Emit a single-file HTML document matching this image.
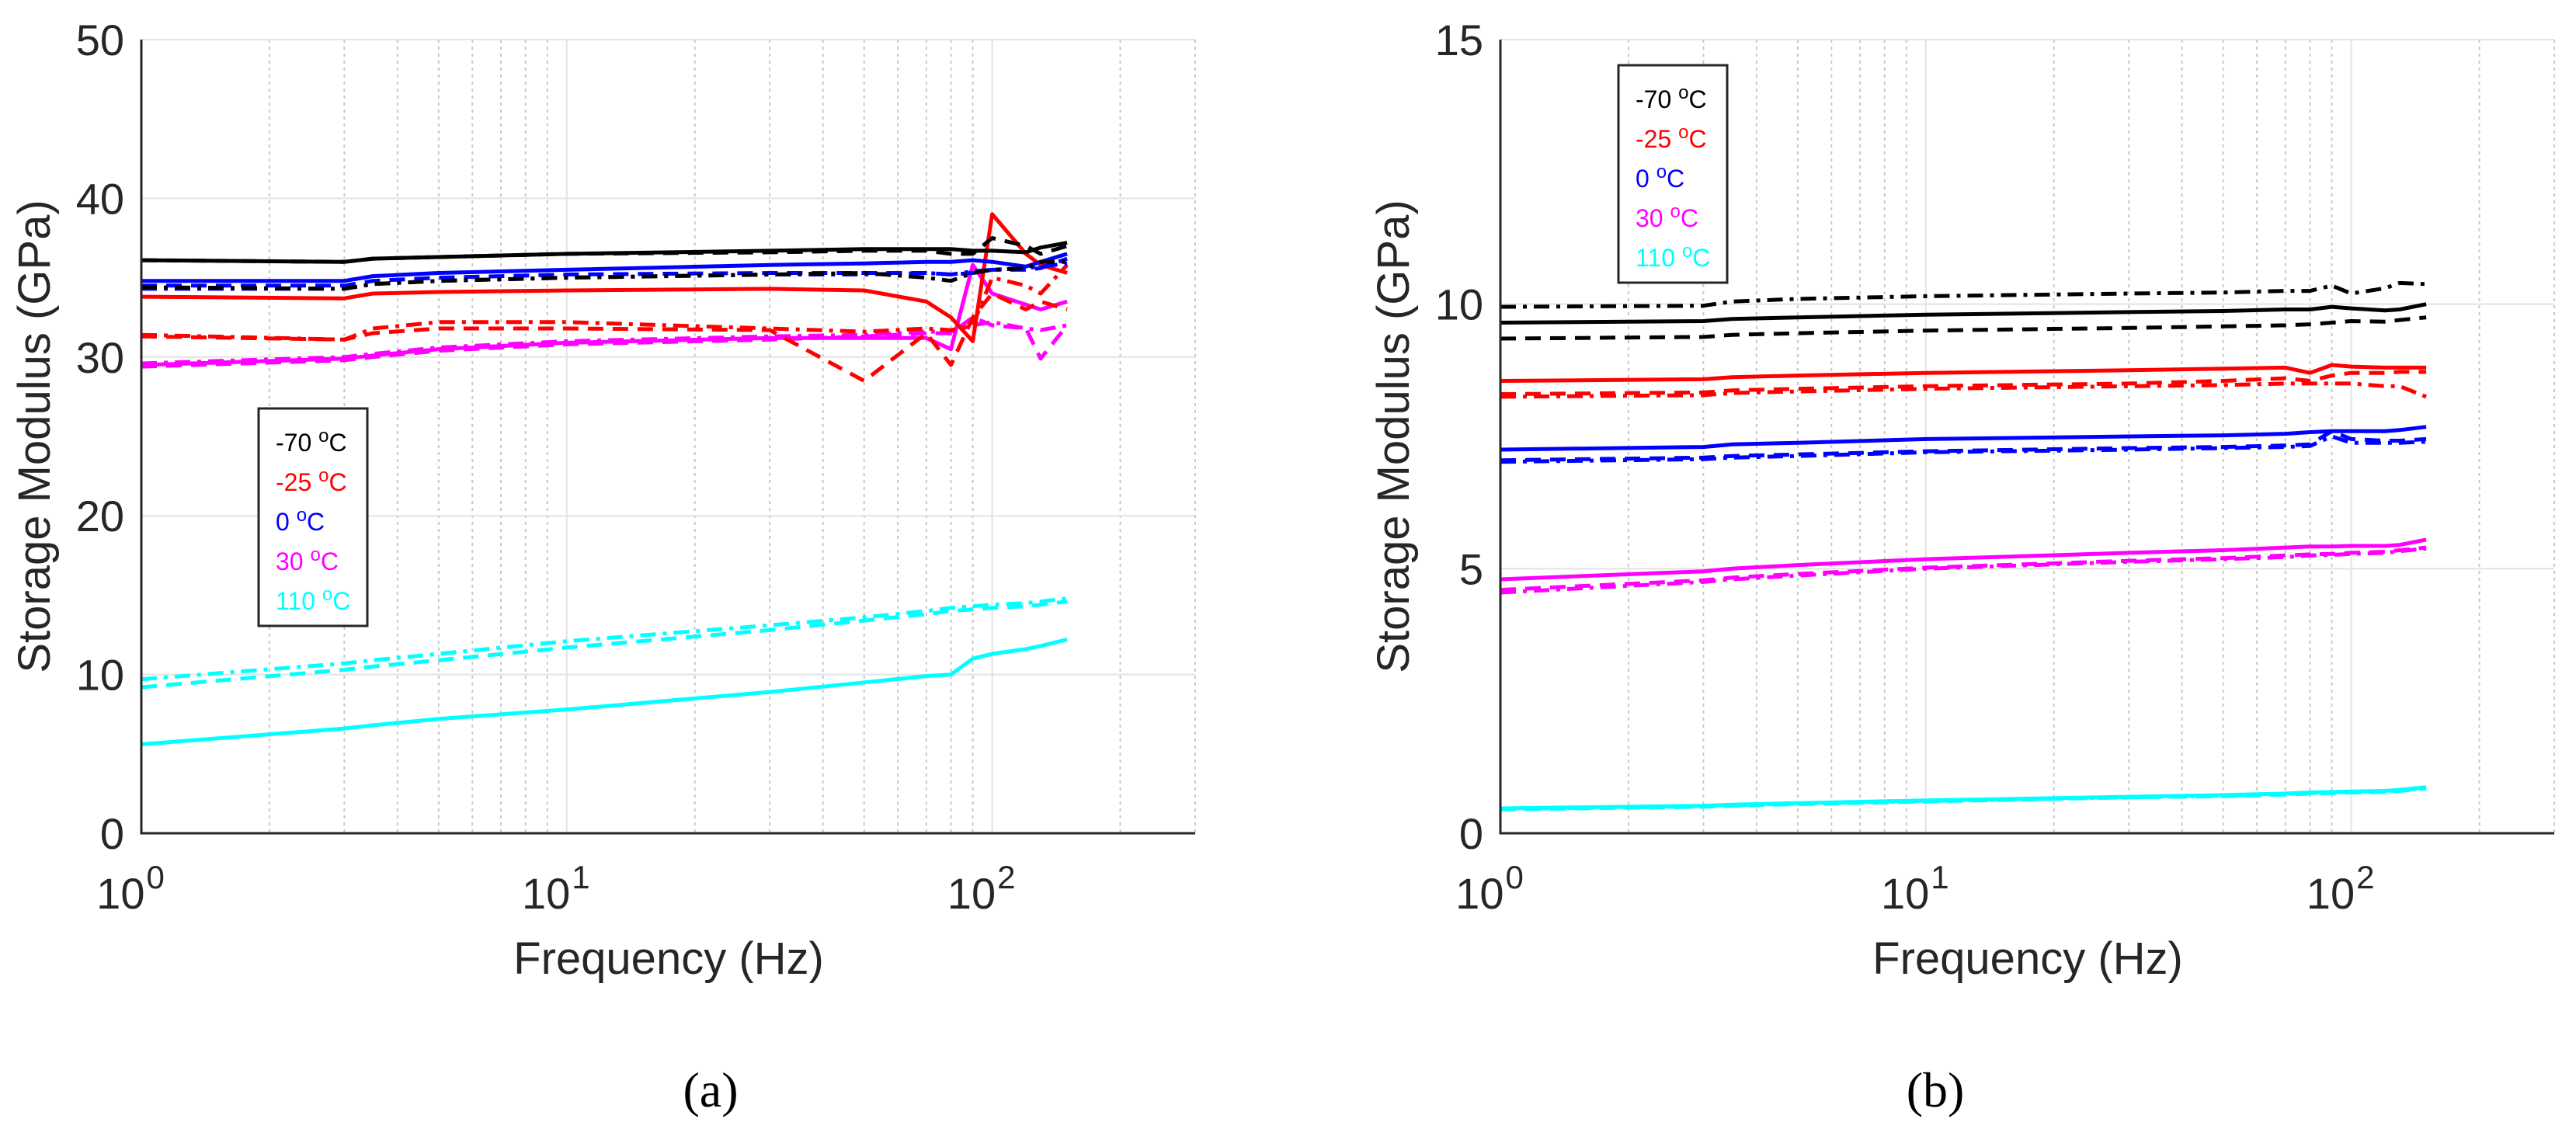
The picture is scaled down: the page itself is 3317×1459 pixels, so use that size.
<!DOCTYPE html>
<html><head><meta charset="utf-8"><style>
html,body{margin:0;padding:0;background:#fff;}
svg{display:block;}
text{font-family:"Liberation Sans",Arial,sans-serif;}
</style></head><body>
<svg id="chart" width="3317" height="1459" viewBox="0 0 3317 1459" xmlns="http://www.w3.org/2000/svg"></svg>
<script>
// shared frequency axis (Hz)
const freqs = [1,3,3.5,5,10,30,50,70,80,90,100,120,130,150];
// Panel (a) values (GPa)
const aBlackSolid = [36.1,36.0,36.2,36.3,36.5,36.7,36.8,36.8,36.8,36.7,36.7,36.6,36.9,37.2];
const aBlackDash  = [36.1,36.0,36.2,36.3,36.5,36.6,36.7,36.7,36.5,36.5,37.5,37.0,36.5,37.0];
const aBlackDot   = [34.4,34.3,34.6,34.8,35.0,35.2,35.3,35.0,34.8,35.3,35.5,35.6,36.0,36.0];
const aBlueSolid  = [34.8,34.8,35.1,35.3,35.5,35.8,35.9,36.0,36.0,36.1,36.0,35.7,36.0,36.5];
const aBlueDash   = [34.5,34.5,34.8,35.0,35.2,35.3,35.3,35.3,35.2,35.3,35.5,35.5,35.6,36.2];
const aBlueDot    = [34.3,34.3,34.6,34.8,35.0,35.2,35.2,35.3,35.2,35.4,35.5,35.6,35.7,35.9];
const aRedSolid   = [33.8,33.7,34.0,34.1,34.2,34.3,34.2,33.5,32.5,31.0,39.0,36.5,35.8,35.3];
const aRedDash    = [31.3,31.1,31.5,31.8,31.8,31.7,28.5,31.5,29.5,32.5,34.0,33.0,33.5,33.0];
const aRedDot     = [31.4,31.1,31.8,32.2,32.2,31.8,31.6,31.8,31.7,32.0,35.0,34.5,34.0,35.8];
const aMagSolid   = [29.5,29.9,30.1,30.5,30.9,31.2,31.2,31.2,30.5,35.8,34.0,33.3,33.0,33.5];
const aMagDash    = [29.4,29.8,30.0,30.4,30.8,31.1,31.3,31.5,31.5,32.5,32.0,31.8,29.9,32.0];
const aMagDot     = [29.6,30.0,30.2,30.6,31.0,31.3,31.4,31.6,31.6,32.0,32.2,31.8,31.7,32.0];
const aCyanSolid  = [5.6,6.6,6.8,7.2,7.8,8.9,9.5,9.9,10.0,11.0,11.3,11.6,11.8,12.2];
const aCyanDash   = [9.2,10.3,10.5,10.9,11.7,12.8,13.4,13.8,14.0,14.1,14.2,14.3,14.4,14.6];
const aCyanDot    = [9.7,10.7,10.9,11.3,12.1,13.1,13.6,14.0,14.2,14.3,14.4,14.5,14.6,14.8];
// Panel (b) values (GPa)
const bBlackDot   = [9.95,9.97,10.05,10.1,10.15,10.2,10.22,10.25,10.25,10.35,10.2,10.3,10.4,10.38];
const bBlackSolid = [9.65,9.68,9.72,9.75,9.8,9.85,9.87,9.9,9.9,9.95,9.92,9.88,9.9,10.0];
const bBlackDash  = [9.35,9.38,9.42,9.45,9.5,9.55,9.58,9.6,9.62,9.65,9.68,9.67,9.7,9.75];
const bRedSolid   = [8.55,8.58,8.62,8.65,8.7,8.75,8.78,8.8,8.7,8.85,8.82,8.8,8.8,8.8];
const bRedDash    = [8.3,8.33,8.37,8.4,8.45,8.5,8.55,8.6,8.55,8.65,8.7,8.7,8.72,8.72];
const bRedDot     = [8.25,8.28,8.32,8.35,8.4,8.45,8.47,8.5,8.5,8.5,8.5,8.45,8.45,8.25];
const bBlueSolid  = [7.25,7.3,7.35,7.38,7.45,7.5,7.52,7.55,7.58,7.6,7.6,7.6,7.62,7.68];
const bBlueDash   = [7.05,7.1,7.13,7.16,7.22,7.28,7.3,7.33,7.35,7.6,7.45,7.42,7.42,7.45];
const bBlueDot    = [7.02,7.07,7.1,7.13,7.2,7.25,7.28,7.3,7.32,7.5,7.38,7.38,7.38,7.4];
const bMagSolid   = [4.8,4.95,5.0,5.07,5.18,5.3,5.35,5.4,5.42,5.42,5.43,5.43,5.45,5.55];
const bMagDash    = [4.6,4.78,4.83,4.9,5.02,5.15,5.2,5.25,5.27,5.28,5.3,5.32,5.35,5.4];
const bMagDot     = [4.55,4.75,4.8,4.87,5.0,5.13,5.18,5.22,5.25,5.26,5.28,5.3,5.33,5.38];
const bCyanSolid  = [0.47,0.52,0.54,0.57,0.62,0.69,0.72,0.75,0.77,0.78,0.79,0.8,0.82,0.87];
const bCyanDash   = [0.45,0.5,0.52,0.55,0.6,0.68,0.7,0.73,0.75,0.76,0.77,0.78,0.8,0.85];
const bCyanDot    = [0.46,0.51,0.53,0.56,0.61,0.68,0.71,0.74,0.76,0.77,0.78,0.79,0.81,0.86];
const aYTicks = [0,10,20,30,40,50];
const bYTicks = [0,5,10,15];
const xTickExps = [0,1,2];
const legendLabels = ["-70","-25","0","30","110"];
const legendColors = ["#000000","#ff0000","#0000ff","#ff00ff","#00ffff"];

const NS="http://www.w3.org/2000/svg";
const svg=document.getElementById('chart');
function mk(tag,attrs,parent){const e=document.createElementNS(NS,tag);for(const k in attrs)e.setAttribute(k,attrs[k]);(parent||svg).appendChild(e);return e;}
const DASH={solid:"",dash:"20 12",dot:"20 9 5 9"};

function panel(p){
  const g=mk('g',{});
  
  
  const L=p.left,R=p.left+1357,T=51,B=1073;
  const xs=f=>L+(R-L)*Math.log10(f)/Math.log10(300);
  const ys=v=>B-(B-T)*v/p.ymax;
  for(let d=0;d<3;d++)for(let m=2;m<=9;m++){const f=m*Math.pow(10,d);if(f>300)break;
    const l=mk('line',{x1:xs(f),x2:xs(f),y1:T,y2:B,stroke:'#c8c8c8','stroke-width':2,'stroke-dasharray':'4 5'},g);
    }
  xTickExps.forEach(e=>{const x=xs(Math.pow(10,e));
    const l=mk('line',{x1:x,x2:x,y1:T,y2:B,stroke:'#e3e3e3','stroke-width':2},g);
    });
  p.yticks.forEach(v=>{const y=ys(v);
    const l=mk('line',{x1:L,x2:R,y1:y,y2:y,stroke:'#e3e3e3','stroke-width':2},g);
    
    const t=mk('text',{x:L-22,y:y+20,'font-size':56,'text-anchor':'end',fill:'#262626'},g);
    t.textContent=v;
    });
  mk('line',{x1:R,x2:R,y1:T,y2:B,stroke:'#c8c8c8','stroke-width':2,'stroke-dasharray':'4 5'},g);
  p.series.forEach(s=>{
    const d=freqs.map((f,i)=>(i?'L':'M')+xs(f).toFixed(1)+','+ys(s.v[i]).toFixed(1)).join('');
    const path=mk('path',{d:d,fill:'none',stroke:s.c,'stroke-width':5,'stroke-dasharray':DASH[s.s],'stroke-linejoin':'round'},g);
    
    
  });
  const ax=mk('path',{d:`M${L},${T}V${B}H${R}`,fill:'none',stroke:'#262626','stroke-width':3},g);
  
  xTickExps.forEach(e=>{const x=xs(Math.pow(10,e));
    const t=mk('text',{x:x-14,y:1170,'font-size':56,'text-anchor':'middle',fill:'#262626'},g);
    t.textContent='10';
    
    const sp=mk('tspan',{dx:2,dy:-26,'font-size':42},t);sp.textContent=e;});
  const xl=mk('text',{x:L+679,y:1254,'font-size':58,'text-anchor':'middle',fill:'#262626'},g);
  xl.textContent='Frequency (Hz)';
  
  const yl=mk('text',{x:0,y:0,'font-size':58,'text-anchor':'middle',fill:'#262626',transform:`translate(${p.ylx},${(T+B)/2}) rotate(-90)`},g);
  yl.textContent='Storage Modulus (GPa)';
  
  const cap=mk('text',{x:p.capx,y:1425,'font-size':64,'text-anchor':'middle',fill:'#000',style:'font-family:"Liberation Serif",serif'},g);
  cap.textContent=p.cap;
  
  const lg=mk('g',{},g);
  
  mk('rect',{x:p.lg[0],y:p.lg[1],width:140,height:280,fill:'#fff',stroke:'#262626','stroke-width':3},lg);
  legendLabels.forEach((lab,i)=>{
    const t=mk('text',{x:p.lg[0]+22,y:p.lg[1]+55+i*51,'font-size':32,fill:legendColors[i]},lg);
    t.textContent=lab+' ';
    
    const o=mk('tspan',{dy:-12,'font-size':24},t);o.textContent='o';
    const c=mk('tspan',{dy:12},t);c.textContent='C';
  });
}
panel({name:'panel-a',left:182,ymax:50,yticks:aYTicks,ylx:64,capx:915,cap:'(a)',lg:[333,526],series:[
 {n:'a-110-solid',c:'#00ffff',s:'solid',v:aCyanSolid},{n:'a-110-dash',c:'#00ffff',s:'dash',v:aCyanDash},{n:'a-110-dashdot',c:'#00ffff',s:'dot',v:aCyanDot},
 {n:'a-30-solid',c:'#ff00ff',s:'solid',v:aMagSolid},{n:'a-30-dash',c:'#ff00ff',s:'dash',v:aMagDash},{n:'a-30-dashdot',c:'#ff00ff',s:'dot',v:aMagDot},
 {n:'a-m25-solid',c:'#ff0000',s:'solid',v:aRedSolid},{n:'a-m25-dash',c:'#ff0000',s:'dash',v:aRedDash},{n:'a-m25-dashdot',c:'#ff0000',s:'dot',v:aRedDot},
 {n:'a-0-solid',c:'#0000ff',s:'solid',v:aBlueSolid},{n:'a-0-dash',c:'#0000ff',s:'dash',v:aBlueDash},{n:'a-0-dashdot',c:'#0000ff',s:'dot',v:aBlueDot},
 {n:'a-m70-solid',c:'#000000',s:'solid',v:aBlackSolid},{n:'a-m70-dash',c:'#000000',s:'dash',v:aBlackDash},{n:'a-m70-dashdot',c:'#000000',s:'dot',v:aBlackDot}]});
panel({name:'panel-b',left:1932,ymax:15,yticks:bYTicks,ylx:1814,capx:2492,cap:'(b)',lg:[2084,84],series:[
 {n:'b-110-solid',c:'#00ffff',s:'solid',v:bCyanSolid},{n:'b-110-dash',c:'#00ffff',s:'dash',v:bCyanDash},{n:'b-110-dashdot',c:'#00ffff',s:'dot',v:bCyanDot},
 {n:'b-30-solid',c:'#ff00ff',s:'solid',v:bMagSolid},{n:'b-30-dash',c:'#ff00ff',s:'dash',v:bMagDash},{n:'b-30-dashdot',c:'#ff00ff',s:'dot',v:bMagDot},
 {n:'b-m25-solid',c:'#ff0000',s:'solid',v:bRedSolid},{n:'b-m25-dash',c:'#ff0000',s:'dash',v:bRedDash},{n:'b-m25-dashdot',c:'#ff0000',s:'dot',v:bRedDot},
 {n:'b-0-solid',c:'#0000ff',s:'solid',v:bBlueSolid},{n:'b-0-dash',c:'#0000ff',s:'dash',v:bBlueDash},{n:'b-0-dashdot',c:'#0000ff',s:'dot',v:bBlueDot},
 {n:'b-m70-solid',c:'#000000',s:'solid',v:bBlackSolid},{n:'b-m70-dash',c:'#000000',s:'dash',v:bBlackDash},{n:'b-m70-dashdot',c:'#000000',s:'dot',v:bBlackDot}]});
</script>
</body></html>
